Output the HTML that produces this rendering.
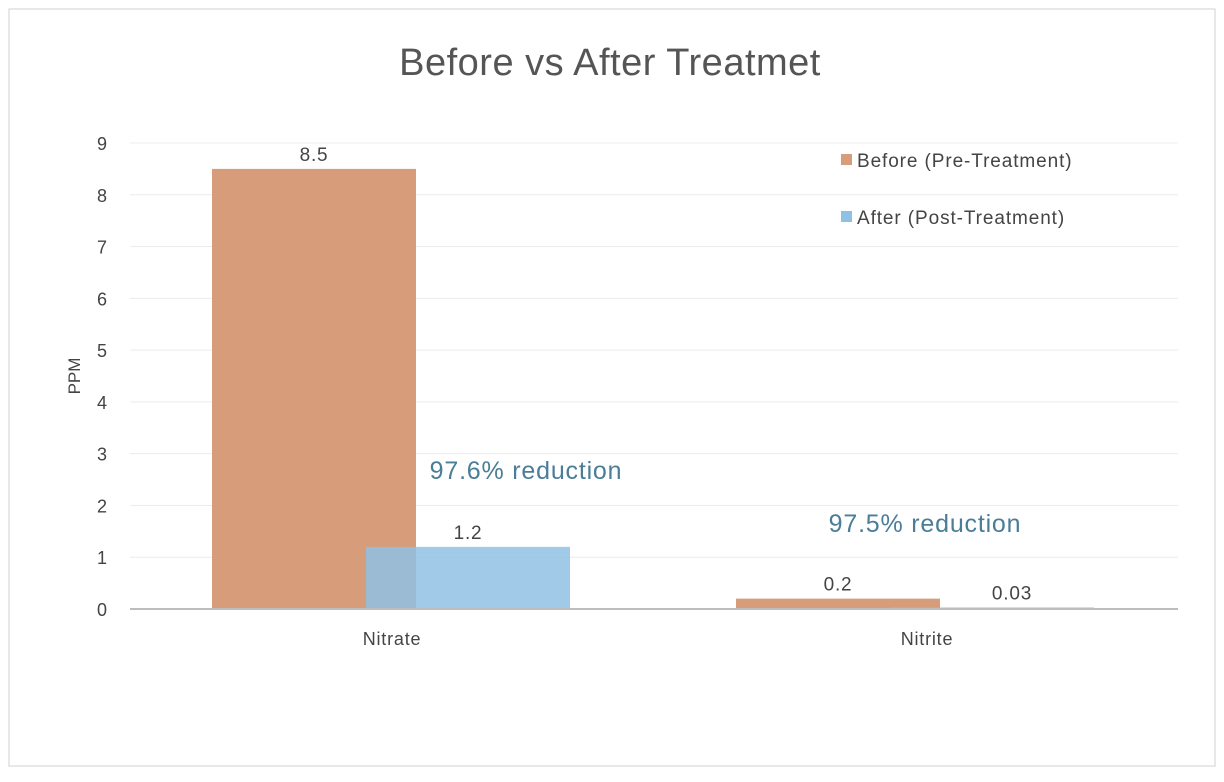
<!DOCTYPE html>
<html><head><meta charset="utf-8"><style>
html,body{margin:0;padding:0;background:#fff;}
svg{display:block;font-family:"Liberation Sans",Arial,sans-serif;}
</style></head><body>
<svg id="chart" width="1224" height="782">
<rect x="9" y="9" width="1206" height="757" fill="#fff" stroke="#d0d0d0"/>
<text x="610" y="75" text-anchor="middle" font-size="38" letter-spacing="0.5" fill="#555">Before vs After Treatmet</text>
<text transform="translate(80,376) rotate(-90)" text-anchor="middle" font-size="17" fill="#444">PPM</text>
<g id="grid"></g><g id="bars"></g><g id="labels"></g>
<text x="526" y="479" text-anchor="middle" font-size="25" letter-spacing="0.8" fill="#4a7d97">97.6% reduction</text>
<text x="925" y="532" text-anchor="middle" font-size="25" letter-spacing="0.8" fill="#4a7d97">97.5% reduction</text>
<g>
<rect x="841" y="154" width="11" height="11" fill="#d79c79"/>
<text x="857" y="167" font-size="19" letter-spacing="0.9" fill="#444">Before (Pre-Treatment)</text>
<rect x="841" y="211" width="11" height="11" fill="#8fc1e3"/>
<text x="857" y="224" font-size="19" letter-spacing="0.9" fill="#444">After (Post-Treatment)</text>
</g>
</svg>
<script>
const categories=["Nitrate","Nitrite"];
const beforeValues=[8.5,0.2];
const afterValues=[1.2,0.03];
const beforeLabels=["8.5","0.2"];
const afterLabels=["1.2","0.03"];
const yTicks=[0,1,2,3,4,5,6,7,8,9];
const NS="http://www.w3.org/2000/svg";
const X0=130,X1=1178,Y0=609,Y9=143;
const y=v=>Y0-(Y0-Y9)*v/9;
const catW=(X1-X0)/categories.length;
const cx=i=>X0+catW*(i+0.5);
function mk(tag,attrs,parent,text){const e=document.createElementNS(NS,tag);for(const k in attrs)e.setAttribute(k,attrs[k]);if(text!==undefined)e.textContent=text;document.getElementById(parent).appendChild(e);return e;}
yTicks.forEach(t=>{
 if(t>0){const g=mk('line',{x1:X0,x2:X1,y1:y(t),y2:y(t),stroke:'#ececec','stroke-width':1},'grid');
 
 }
 const l=mk('text',{x:107,y:y(t)+7,'text-anchor':'end','font-size':18,fill:'#444'},'labels',String(t));
 
 
});
const bw=204;
categories.forEach((c,i)=>{
 const bx=cx(i)-180;
 const b=mk('rect',{x:bx,y:y(beforeValues[i]),width:bw,height:Y0-y(beforeValues[i]),fill:'#d79c79'},'bars');
 
 
 const ax=bx+154;
 const a=mk('rect',{x:ax,y:y(afterValues[i]),width:bw,height:Y0-y(afterValues[i]),fill:'#8fc1e3','fill-opacity':0.85},'bars');
 
 
 const bl=mk('text',{x:bx+bw/2,y:y(beforeValues[i])-8,'text-anchor':'middle','font-size':19,'letter-spacing':0.8,fill:'#444'},'labels',beforeLabels[i]);
 
 
 const lowOff=(Y0-y(afterValues[i]))<10?20:0;
 const al=mk('text',{x:ax+bw/2+lowOff,y:Math.min(y(afterValues[i])-8,Y0-2),'text-anchor':'middle','font-size':19,'letter-spacing':0.8,fill:'#444'},'labels',afterLabels[i]);
 
 
 const cl=mk('text',{x:cx(i)+(i===1?11:0),y:645,'text-anchor':'middle','font-size':18,'letter-spacing':0.8,fill:'#444'},'labels',c);
 
 
});
const ax=mk('line',{x1:X0,x2:X1,y1:Y0,y2:Y0,stroke:'#bdbdbd','stroke-width':2},'labels');


</script>
</body></html>
